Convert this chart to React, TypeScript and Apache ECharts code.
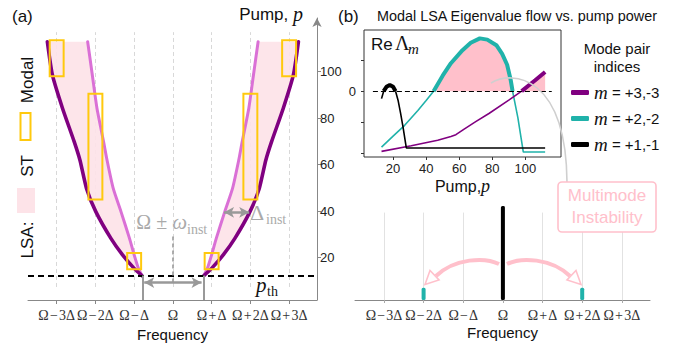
import React, { useEffect, useRef } from 'react';
import * as echarts from 'echarts';

// ---------- data ----------
const freqTickValues = [-3, -2, -1, 0, 1, 2, 3];
const freqTickLabels = ['Ω\u200a−\u200a3Δ', 'Ω\u200a−\u200a2Δ', 'Ω\u200a−\u200aΔ', 'Ω', 'Ω\u200a+\u200aΔ', 'Ω\u200a+\u200a2Δ', 'Ω\u200a+\u200a3Δ'];
const pumpTicks = [20, 40, 60, 80, 100];

// panel (a): instability branches (frequency offset in units of Δ vs pump)
const pumpLevels = [12.3, 15.4, 21.2, 28.3, 39.8, 49.8, 62, 70, 84.3, 98.6, 112.9];
const outerBranch = [0.8, 1.0, 1.3, 1.6, 1.99, 2.23, 2.4, 2.55, 2.85, 3.11, 3.24];
const innerBranch = [0.8, 0.89, 1.0, 1.12, 1.34, 1.54, 1.7, 1.79, 1.96, 2.08, 2.2];
const pumpThreshold = 12.3;
const modalBoxOffsets = [1, 2, 3];
const modalBoxLow = [15, 45, 98];
const modalBoxHigh = [22, 90.5, 113.5];

// panel (b) inset: Re Λ_m vs pump
const insetPumpTicks = [20, 40, 60, 80, 100];
const eigenM3 = [[13, -1.94], [31, -1.76], [47, -1.58], [55, -1.46], [58, -1.4], [63, -1.22], [70, -0.98], [78, -0.72], [90, -0.29], [97.8, 0], [106, 0.35], [112, 0.62]];
const eigenM2 = [[13, -1.8], [20, -1.45], [27, -1.1], [35, -0.62], [40, -0.3], [44.5, 0], [50, 0.5], [55, 0.9], [62, 1.32], [67, 1.56], [72.5, 1.7], [77, 1.66], [82.5, 1.48], [86, 1.2], [89, 0.85], [91.2, 0.35], [92.3, 0], [95.5, -0.85], [98.8, -1.96], [112, -1.96]];
const eigenM1 = [[13, -0.24], [14.3, 0], [16, 0.14], [18, 0.2], [20, 0.14], [21.5, 0], [23, -0.29], [24.5, -0.7], [26, -1.15], [28, -1.83], [112, -1.83]];

// panel (b) bottom: spectrum
const spectrumOffsets = [0, -2, 2];
const spectrumHeights = [1, 0.13, 0.13];

// ---------- styles ----------
const SANS = '"Liberation Sans", Arial, sans-serif';
const SERIF = '"Liberation Serif", "DejaVu Serif", serif';
const PURPLE = '#800080';
const ORCHID = '#da70d6';
const TEAL = '#20b2aa';
const GOLD = '#ffc90e';
const PINK_FILL = '#fde3e8';
const PINK = '#ffc0cb';
const GRAY = '#999999';

const freqLabel = (v: number) => {
  const i = freqTickValues.indexOf(Math.round(v));
  return i >= 0 ? freqTickLabels[i] : '';
};

function splitBySign(curve: number[][]) {
  const segs: { pos: boolean; pts: number[][] }[] = [];
  let cur = [curve[0]];
  let sign = Math.sign(curve[0][1]);
  for (let i = 1; i < curve.length; i++) {
    const pt = curve[i];
    const s = Math.sign(pt[1]);
    if (s !== 0 && sign !== 0 && s !== sign) {
      const last = cur[cur.length - 1];
      segs.push({ pos: sign > 0, pts: cur });
      cur = [last, pt];
      sign = s;
    } else {
      cur.push(pt);
      if (sign === 0) sign = s;
    }
  }
  segs.push({ pos: sign > 0, pts: cur });
  return segs;
}

function eigenSeries(name: string, curve: number[][], color: string, fill: boolean) {
  return splitBySign(curve).map((seg) => ({
    type: 'line',
    name,
    xAxisIndex: 1,
    yAxisIndex: 1,
    data: seg.pts,
    color,
    symbol: 'none',
    silent: true,
    z: seg.pos ? 4 : 3,
    lineStyle: { color, width: seg.pos ? 4 : 1.6 },
    itemStyle: { color },
    areaStyle: seg.pos && fill ? { color: PINK, opacity: 1, origin: 'auto' } : undefined,
  }));
}

export default function App() {
  const ref = useRef<HTMLDivElement>(null);
  useEffect(() => {
    if (!ref.current) return;
    const chart = echarts.init(ref.current, undefined, { renderer: 'svg' });

    const branchLine = (arr: number[], side: number, color: string, width: number) => ({
      type: 'line',
      xAxisIndex: 0,
      yAxisIndex: 0,
      data: pumpLevels.map((p, i) => [side * arr[i], p]),
      symbol: 'none',
      smooth: 0.2,
      silent: true,
      z: 3,
      lineStyle: { color, width, cap: 'round' },
    });

    const boxData: number[][] = [];
    [1, -1].forEach((s) =>
      modalBoxOffsets.forEach((c, i) => boxData.push([s * c, modalBoxLow[i], modalBoxHigh[i]]))
    );

    const arrowEnd = (x: number, y: number) => ({ coord: [x, y], symbol: 'arrow', symbolSize: [8, 10] });

    const option: any = {
      animation: false,
      grid: [
        { left: 28, top: 18, width: 289, height: 282 },
        { left: 364, top: 30, width: 197, height: 127, show: true, borderColor: '#333', borderWidth: 1, backgroundColor: 'transparent' },
        { left: 355, top: 206, width: 295, height: 94 },
      ],
      xAxis: [
        {
          type: 'value', gridIndex: 0, min: -3.74, max: 3.72,
          axisLine: { onZero: false, lineStyle: { color: '#888', width: 1 } },
          axisTick: { customValues: freqTickValues, length: 4, lineStyle: { color: '#888' } },
          axisLabel: { customValues: freqTickValues, formatter: freqLabel, fontFamily: SERIF, fontSize: 14, color: '#333', margin: 8 },
          splitLine: { show: false },
          name: 'Frequency', nameLocation: 'middle', nameGap: 25,
          nameTextStyle: { fontFamily: SANS, fontSize: 15, color: '#111' },
        },
        {
          type: 'value', gridIndex: 1, min: 2.4, max: 121.6,
          axisLine: { show: false, onZero: false },
          axisTick: { customValues: insetPumpTicks, length: 3, lineStyle: { color: '#333' } },
          axisLabel: { customValues: insetPumpTicks, fontFamily: SANS, fontSize: 13, color: '#222', margin: 5 },
          splitLine: { show: false },
          name: 'Pump,{i|p}', nameLocation: 'middle', nameGap: 20,
          nameTextStyle: {
            fontFamily: SANS, fontSize: 16, color: '#111',
            rich: { i: { fontFamily: SERIF, fontStyle: 'italic', fontSize: 18, color: '#111' } },
          },
        },
        {
          type: 'value', gridIndex: 2, min: -3.73, max: 3.71,
          axisLine: { onZero: false, lineStyle: { color: '#888', width: 1 } },
          axisTick: { customValues: freqTickValues, length: 3, lineStyle: { color: '#aaa' } },
          axisLabel: { customValues: freqTickValues, formatter: freqLabel, fontFamily: SERIF, fontSize: 14, color: '#333', margin: 8 },
          splitLine: { show: false },
          name: 'Frequency', nameLocation: 'middle', nameGap: 25,
          nameTextStyle: { fontFamily: SANS, fontSize: 15, color: '#111' },
        },
      ],
      yAxis: [
        {
          type: 'value', gridIndex: 0, position: 'right', min: 1.8, max: 123.1,
          axisLine: { show: true, onZero: false, symbol: ['none', 'arrow'], symbolSize: [7, 9], lineStyle: { color: '#888', width: 1 } },
          axisTick: { show: true, customValues: pumpTicks, length: 4, lineStyle: { color: '#888' } },
          axisLabel: { customValues: pumpTicks, fontFamily: SANS, fontSize: 13, color: '#222', margin: 3 },
          splitLine: { show: false },
        },
        {
          type: 'value', gridIndex: 1, min: -2.12, max: 1.97,
          axisLine: { show: false, onZero: false },
          axisTick: { show: true, customValues: [-2, -1, 0, 1], length: 3, lineStyle: { color: '#333' } },
          axisLabel: { customValues: [0], fontFamily: SANS, fontSize: 13, color: '#222', margin: 8 },
          splitLine: { show: false },
        },
        {
          type: 'value', gridIndex: 2, min: 0, max: 1, show: false,
          axisLine: { onZero: false },
        },
      ],
      legend: {
        data: ['+3,-3', '+2,-2', '+1,-1'],
        orient: 'vertical', left: 566, top: 78,
        itemWidth: 18, itemHeight: 5, itemGap: 7, icon: 'roundRect',
        selectedMode: false,
        formatter: (n: string) => `{m|m}{t| = ${n}}`,
        textStyle: {
          rich: {
            m: { fontFamily: SERIF, fontStyle: 'italic', fontSize: 19, color: '#111', lineHeight: 18 },
            t: { fontFamily: SANS, fontSize: 15, color: '#111', lineHeight: 18 },
          },
        },
      },
      series: [
        // panel (a) grid lines
        {
          type: 'line', xAxisIndex: 0, yAxisIndex: 0, data: [], silent: true, z: 1,
          markLine: {
            silent: true, symbol: 'none', label: { show: false }, emphasis: { disabled: true }, z: 1,
            lineStyle: { color: '#d8d8d8', type: [4, 3], width: 1 },
            data: freqTickValues.map((v) => [{ coord: [v, 7.4] }, { coord: [v, 117] }]),
          },
        },
        // LSA fill
        {
          type: 'custom', xAxisIndex: 0, yAxisIndex: 0, silent: true, z: 2,
          data: [[1, 50], [-1, 50]],
          renderItem: (_p: any, api: any) => {
            const side = api.value(0);
            const pts: number[][] = [];
            for (let i = 0; i < pumpLevels.length; i++) pts.push(api.coord([side * innerBranch[i], pumpLevels[i]]));
            for (let i = pumpLevels.length - 1; i >= 0; i--) pts.push(api.coord([side * outerBranch[i], pumpLevels[i]]));
            return { type: 'polygon', shape: { points: pts }, style: { fill: PINK_FILL, opacity: 0.92 } };
          },
        },
        branchLine(innerBranch, 1, ORCHID, 3),
        branchLine(innerBranch, -1, ORCHID, 3),
        branchLine(outerBranch, 1, PURPLE, 3.6),
        branchLine(outerBranch, -1, PURPLE, 3.6),
        // modal boxes
        {
          type: 'custom', xAxisIndex: 0, yAxisIndex: 0, silent: true, z: 5,
          data: boxData,
          encode: { x: 0, y: 1 },
          renderItem: (_p: any, api: any) => {
            const c = api.value(0), lo = api.value(1), hi = api.value(2);
            const a = api.coord([c - 0.18, hi]);
            const b = api.coord([c + 0.18, lo]);
            return {
              type: 'rect',
              shape: { x: a[0], y: a[1], width: b[0] - a[0], height: b[1] - a[1] },
              style: { fill: 'none', stroke: GOLD, lineWidth: 2 },
            };
          },
        },
        // annotations in panel (a)
        {
          type: 'line', xAxisIndex: 0, yAxisIndex: 0, data: [], silent: true, z: 6,
          markLine: {
            silent: true, symbol: 'none', label: { show: false }, emphasis: { disabled: true }, z: 6,
            data: [
              [{ coord: [-3.74, pumpThreshold], lineStyle: { color: '#000', width: 2, type: [6, 4] } }, { coord: [3.72, pumpThreshold] }],
              [{ coord: [-0.79, 1.8], lineStyle: { color: GRAY, width: 2, type: 'solid' } }, { coord: [-0.79, pumpThreshold] }],
              [{ coord: [0.79, 1.8], lineStyle: { color: GRAY, width: 2, type: 'solid' } }, { coord: [0.79, pumpThreshold] }],
              [{ coord: [0, 9.3], lineStyle: { color: GRAY, width: 1.6, type: [4, 3] } }, { coord: [0, 29.8] }],
              [{ ...arrowEnd(-0.74, 9.3), lineStyle: { color: GRAY, width: 2.5, type: 'solid' } }, arrowEnd(0.74, 9.3)],
              [{ ...arrowEnd(1.32, 39.5), lineStyle: { color: GRAY, width: 2.5, type: 'solid' } }, arrowEnd(1.97, 39.5)],
            ],
          },
        },
        // inset zero line
        {
          type: 'line', xAxisIndex: 1, yAxisIndex: 1, data: [], silent: true, z: 5,
          markLine: {
            silent: true, symbol: 'none', label: { show: false }, emphasis: { disabled: true }, z: 5,
            data: [[{ coord: [7.8, 0], lineStyle: { color: '#000', width: 1.2, type: [5, 3] } }, { coord: [116, 0] }]],
          },
        },
        ...eigenSeries('+2,-2', eigenM2, TEAL, true),
        ...eigenSeries('+3,-3', eigenM3, PURPLE, true),
        ...eigenSeries('+1,-1', eigenM1, '#000', false),
        // bottom spectrum grid lines
        {
          type: 'line', xAxisIndex: 2, yAxisIndex: 2, data: [], silent: true, z: 1,
          markLine: {
            silent: true, symbol: 'none', label: { show: false }, emphasis: { disabled: true }, z: 1,
            lineStyle: { color: '#e2e2e2', type: 'solid', width: 1 },
            data: freqTickValues.map((v) => [{ coord: [v, 0] }, { coord: [v, 0.93] }]),
          },
        },
        {
          type: 'custom', xAxisIndex: 2, yAxisIndex: 2, silent: true, z: 8,
          data: spectrumOffsets.map((x, i) => [x, spectrumHeights[i], i === 0 ? 0 : 1]),
          encode: { x: 0, y: 1 },
          renderItem: (_p: any, api: any) => {
            const top = api.coord([api.value(0), api.value(1)]);
            const base = api.coord([api.value(0), 0]);
            return {
              type: 'rect',
              shape: { x: top[0] - 2, y: top[1], width: 4, height: base[1] - top[1], r: 1.5 },
              style: { fill: api.value(2) === 0 ? '#000' : TEAL },
            };
          },
        },
      ],
      graphic: [
        { type: 'text', x: 12, y: 16, style: { text: '(a)', fontFamily: SANS, fontSize: 17, fill: '#111', align: 'left', verticalAlign: 'middle' } },
        { type: 'text', x: 338, y: 16, style: { text: '(b)', fontFamily: SANS, fontSize: 17, fill: '#111', align: 'left', verticalAlign: 'middle' } },
        { type: 'text', x: 377, y: 16, style: { text: 'Modal LSA Eigenvalue flow vs. pump power', fontFamily: SANS, fontSize: 14.4, fill: '#111', align: 'left', verticalAlign: 'middle' } },
        {
          type: 'text', x: 303, y: 14,
          style: {
            text: '{s|Pump, }{i|p}', align: 'right', verticalAlign: 'middle', fill: '#111',
            rich: { s: { fontFamily: SANS, fontSize: 17, fill: '#111' }, i: { fontFamily: SERIF, fontStyle: 'italic', fontSize: 20, fill: '#111' } },
          },
        },
        // left legend (rotated)
        { type: 'text', x: 27, y: 240, rotation: Math.PI / 2, style: { text: 'LSA:', fontFamily: SANS, fontSize: 17, fill: '#111', align: 'center', verticalAlign: 'middle' } },
        { type: 'rect', shape: { x: 17, y: 188, width: 18, height: 25 }, style: { fill: PINK_FILL } },
        { type: 'text', x: 27, y: 166, rotation: Math.PI / 2, style: { text: 'ST', fontFamily: SANS, fontSize: 17, fill: '#111', align: 'center', verticalAlign: 'middle' } },
        { type: 'rect', shape: { x: 20.5, y: 113, width: 10, height: 27 }, style: { fill: 'none', stroke: GOLD, lineWidth: 2 } },
        { type: 'text', x: 27, y: 80, rotation: Math.PI / 2, style: { text: 'Modal', fontFamily: SANS, fontSize: 17, fill: '#111', align: 'center', verticalAlign: 'middle' } },
        // math annotations panel (a)
        {
          type: 'text', x: 187, y: 222,
          style: {
            text: '{u|Ω ± }{i|ω}', align: 'right', verticalAlign: 'middle', fill: '#aaa',
            rich: { u: { fontFamily: SERIF, fontSize: 20, fill: '#aaa' }, i: { fontFamily: SERIF, fontStyle: 'italic', fontSize: 21, fill: '#aaa' } },
          },
        },
        { type: 'text', x: 187, y: 229, style: { text: 'inst', fontFamily: SERIF, fontSize: 14, fill: '#aaa', align: 'left', verticalAlign: 'middle' } },
        { type: 'text', x: 250, y: 212, style: { text: 'Δ', fontFamily: SERIF, fontSize: 22, fill: '#aaa', align: 'left', verticalAlign: 'middle' } },
        { type: 'text', x: 266, y: 219, style: { text: 'inst', fontFamily: SERIF, fontSize: 14, fill: '#aaa', align: 'left', verticalAlign: 'middle' } },
        { type: 'text', x: 256, y: 285, style: { text: 'p', fontFamily: SERIF, fontStyle: 'italic', fontSize: 21, fill: '#111', align: 'left', verticalAlign: 'middle' } },
        { type: 'text', x: 267, y: 291, style: { text: 'th', fontFamily: SERIF, fontSize: 14, fill: '#111', align: 'left', verticalAlign: 'middle' } },
        // inset label
        { type: 'text', x: 371, y: 44, style: { text: 'Re', fontFamily: SANS, fontSize: 17, fill: '#111', align: 'left', verticalAlign: 'middle' } },
        { type: 'text', x: 395, y: 43, style: { text: 'Λ', fontFamily: SERIF, fontSize: 20, fill: '#111', align: 'left', verticalAlign: 'middle' } },
        { type: 'text', x: 408, y: 49, style: { text: 'm', fontFamily: SERIF, fontStyle: 'italic', fontSize: 15, fill: '#111', align: 'left', verticalAlign: 'middle' } },
        // legend title
        { type: 'text', x: 617, y: 48, style: { text: 'Mode pair', fontFamily: SANS, fontSize: 15, fill: '#111', align: 'center', verticalAlign: 'middle' } },
        { type: 'text', x: 617, y: 66, style: { text: 'indices', fontFamily: SANS, fontSize: 15, fill: '#111', align: 'center', verticalAlign: 'middle' } },
        // gray connector curve
        {
          type: 'bezierCurve', z: 50,
          shape: { x1: 491, y1: 83, cpx1: 512, cpy1: 70, cpx2: 566, cpy2: 75, x2: 567, y2: 182 },
          style: { stroke: '#cfcfcf', lineWidth: 1.6, fill: 'none' },
        },
        // multimode instability box
        { type: 'rect', z: 51, shape: { x: 558, y: 182, width: 98, height: 50, r: 4 }, style: { fill: '#fff', stroke: PINK, lineWidth: 1.6 } },
        { type: 'text', z: 52, x: 607, y: 195, style: { text: 'Multimode', fontFamily: SANS, fontSize: 17, fill: PINK, align: 'center', verticalAlign: 'middle' } },
        { type: 'text', z: 52, x: 607, y: 217, style: { text: 'Instability', fontFamily: SANS, fontSize: 17, fill: PINK, align: 'center', verticalAlign: 'middle' } },
        // pink arcs
        {
          type: 'bezierCurve', z: 40,
          shape: { x1: 499, y1: 264, cpx1: 485, cpy1: 257, cpx2: 455, cpy2: 258, x2: 436, y2: 276 },
          style: { stroke: PINK, lineWidth: 4, fill: 'none' },
        },
        {
          type: 'bezierCurve', z: 40,
          shape: { x1: 507, y1: 264, cpx1: 521, cpy1: 257, cpx2: 551, cpy2: 258, x2: 570, y2: 276 },
          style: { stroke: PINK, lineWidth: 4, fill: 'none' },
        },
        { type: 'polygon', z: 41, shape: { points: [[425, 284.5], [430, 270.5], [439, 280]] }, style: { fill: '#fff', stroke: PINK, lineWidth: 1.6 } },
        { type: 'polygon', z: 41, shape: { points: [[581, 284.5], [576, 270.5], [567, 280]] }, style: { fill: '#fff', stroke: PINK, lineWidth: 1.6 } },
      ],
    };

    chart.setOption(option);
    return () => chart.dispose();
  }, []);

  return <div ref={ref} style={{ position: 'fixed', left: 0, top: 0, width: 696, height: 347, background: '#fff' }} />;
}
